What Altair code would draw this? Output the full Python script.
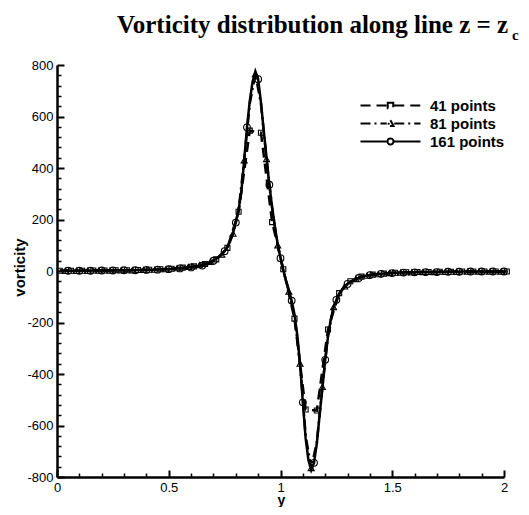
import altair as alt
import numpy as np
import pandas as pd

# ---------------- data ----------------
SERIES = ["41 points", "81 points", "161 points"]
NPTS = [41, 81, 161]
X_FIRST = 0.0125          # first sample position
X_SPAN = 2.0

V41 = [1, 1, 1, 2, 2, 3, 3, 4, 5, 7,
       9, 13, 18, 27, 45, 90, 230, 545, 537, 190,
       7, -185, -538, -542, -227, -86, -40, -22, -14, -10,
       -7, -5, -4, -4, -3, -3, -2, -2, -2, -2,
       -2]

V81 = [1, 1, 1, 1, 1, 1, 2, 2, 2, 2,
       3, 3, 3, 3, 4, 4, 5, 5, 7, 7,
       9, 11, 13, 16, 19, 23, 28, 36, 48, 64,
       92, 145, 235, 430, 650, 765, 650, 435, 245, 100,
       3, -80, -175, -360, -640, -765, -665, -450, -250, -140,
       -88, -60, -42, -31, -23, -18, -14, -12, -10, -8,
       -7, -6, -5, -5, -4, -4, -4, -4, -3, -3,
       -3, -3, -2, -2, -2, -2, -2, -2, -2, -2,
       -2]

V161 = [1, 1, 1, 1, 1, 1, 1, 1, 1, 1,
        1, 1, 2, 2, 2, 2, 2, 2, 2, 2,
        3, 3, 3, 3, 3, 3, 3, 3, 4, 4,
        4, 4, 5, 5, 5, 5, 6, 6, 7, 7,
        8, 9, 10, 10, 11, 12, 13, 14, 16, 17,
        19, 21, 24, 27, 33, 40, 48, 56, 65, 77,
        94, 116, 147, 188, 238, 310, 430, 558, 660, 735,
        775, 745, 655, 545, 440, 335, 248, 170, 105, 50,
        3, -38, -75, -115, -168, -248, -360, -510, -650, -735,
        -773, -745, -670, -560, -455, -345, -255, -188, -142, -112,
        -90, -73, -60, -50, -42, -36, -31, -27, -23, -20,
        -18, -16, -14, -13, -12, -11, -10, -9, -8, -8,
        -7, -6, -6, -6, -5, -5, -5, -5, -4, -4,
        -4, -4, -4, -4, -4, -4, -3, -3, -3, -3,
        -3, -3, -3, -3, -2, -2, -2, -2, -2, -2,
        -2, -2, -2, -2, -2, -2, -2, -2, -2, -2,
        -2]

X_TICKS = [0, 0.5, 1, 1.5, 2]
X_MINOR = [0.1, 0.2, 0.3, 0.4, 0.6, 0.7, 0.8, 0.9, 1.1, 1.2, 1.3, 1.4, 1.6, 1.7, 1.8, 1.9]
Y_TICKS = [-800, -600, -400, -200, 0, 200, 400, 600, 800]
Y_MINOR = [v for v in range(-800, 801, 40) if v % 200 != 0]

TITLE_MAIN = "Vorticity distribution along line z = z"
TITLE_SUB = "c"
X_TITLE = "y"
Y_TITLE = "vorticity"

# ---------------- styles ----------------
SANS = "Liberation Sans"
SERIF = "Liberation Serif"
DASHES = [[10, 6], [10, 4, 2, 4], [1, 0]]
# legend symbols: a 60 px line sample with the marker in its middle (unit = 5 px)
LEGEND_PATHS = [
    "M-6,0L-0.75,0M-0.55,-0.55L0.55,-0.55L0.55,0.55L-0.55,0.55ZM0.75,0L6,0",
    "M-6,0L-0.75,0M0,-0.65L0.6,0.5L-0.6,0.5ZM0.75,0L6,0",
    "M-6,0L-0.75,0M-0.6,0A0.6,0.6 0 1,0 0.6,0A0.6,0.6 0 1,0 -0.6,0ZM0.75,0L6,0",
]


def frame(vals, n, name):
    step = X_SPAN / (n - 1)
    idx = np.arange(len(vals))
    return pd.DataFrame({"pos": X_FIRST + step * idx, "val": vals,
                         "series": name, "idx": idx})


df41 = frame(V41, NPTS[0], SERIES[0])
df81 = frame(V81, NPTS[1], SERIES[1])
df161 = frame(V161, NPTS[2], SERIES[2])

xs = alt.Scale(domain=[0, 2], nice=False, zero=False)
ys = alt.Scale(domain=[-800, 800], nice=False, zero=False)

ax_x_main = alt.Axis(orient="bottom", values=X_TICKS, ticks=False, domain=True,
                     domainColor="black", domainWidth=2.5, labelExpr="'' + datum.value",
                     labelFont=SANS, labelFontSize=13, labelColor="black", labelPadding=4,
                     labelFlush=False, labelOverlap=False, grid=False,
                     title=X_TITLE, titleFont=SANS, titleFontSize=14, titleFontWeight="bold",
                     titleColor="black", titleX=224, titleY=27, titleAlign="center",
                     titleBaseline="alphabetic")
ax_x_major = alt.Axis(orient="bottom", values=X_TICKS, ticks=True, tickSize=7, tickWidth=2,
                      tickColor="black", domain=False, labels=False, grid=False, offset=-7,
                      title=None)
ax_x_minor = alt.Axis(orient="bottom", values=X_MINOR, ticks=True, tickSize=4, tickWidth=1.5,
                      tickColor="black", domain=False, labels=False, grid=False, offset=-4,
                      title=None)

ax_y_main = alt.Axis(orient="left", values=Y_TICKS, ticks=False, domain=True,
                     domainColor="black", domainWidth=2.5, labelExpr="'' + datum.value",
                     labelFont=SANS, labelFontSize=13, labelColor="black", labelPadding=4,
                     labelFlush=False, labelOverlap=False, grid=False,
                     title=Y_TITLE, titleFont=SANS, titleFontSize=15, titleFontWeight="bold",
                     titleColor="black", titleX=-38, titleY=202, titleAngle=270,
                     titleAlign="center", titleBaseline="middle")
ax_y_major = alt.Axis(orient="left", values=Y_TICKS, ticks=True, tickSize=7, tickWidth=2,
                      tickColor="black", domain=False, labels=False, grid=False, offset=-7,
                      title=None)
ax_y_minor = alt.Axis(orient="left", values=Y_MINOR, ticks=True, tickSize=4, tickWidth=1.5,
                      tickColor="black", domain=False, labels=False, grid=False, offset=-4,
                      title=None)


def line(df, dash, axx, axy):
    return alt.Chart(df).mark_line(color="black", strokeWidth=2.5, strokeDash=dash).encode(
        x=alt.X("pos:Q", scale=xs, axis=axx),
        y=alt.Y("val:Q", scale=ys, axis=axy),
    )


def points(df, shape, size, expr):
    return alt.Chart(df).transform_filter(expr).mark_point(
        shape=shape, filled=False, size=size, color="black", strokeWidth=1.1, opacity=1
    ).encode(
        x=alt.X("pos:Q", scale=xs, axis=None),
        y=alt.Y("val:Q", scale=ys, axis=None),
    )


l41 = line(df41, DASHES[0], ax_x_main, ax_y_main)
l81 = line(df81, DASHES[1], ax_x_major, ax_y_major)
l161 = line(df161, DASHES[2], ax_x_minor, ax_y_minor)

p41 = points(df41, "square", 25, "true")
p81 = points(df81, "triangle-up", 36, "datum.idx % 2 == 1")
p161 = points(df161, "circle", 45, "datum.idx % 4 == 3")

leg = alt.Legend(title=None, orient="none", legendX=305, legendY=33,
                 labelFont=SANS, labelFontSize=15, labelFontWeight="bold", labelColor="black",
                 labelOffset=32, symbolOffset=21, symbolSize=100, symbolStrokeWidth=2,
                 symbolStrokeColor="black", rowPadding=2, padding=0)

legend_layer = alt.Chart(df41).transform_filter("false").mark_point(
    filled=False, color="black", size=100, strokeWidth=2, opacity=1
).encode(
    x=alt.X("pos:Q", scale=xs, axis=None),
    y=alt.Y("val:Q", scale=ys, axis=None),
    shape=alt.Shape("series:N", scale=alt.Scale(domain=SERIES, range=LEGEND_PATHS), legend=leg),
    strokeDash=alt.StrokeDash("series:N", scale=alt.Scale(domain=SERIES, range=DASHES), legend=leg),
)

title_layer = alt.Chart(pd.DataFrame({"t": [TITLE_MAIN]})).mark_text(
    align="left", baseline="alphabetic", font=SERIF, fontSize=25, fontWeight="bold", color="black"
).encode(x=alt.value(60), y=alt.value(-32), text="t:N")

sub_layer = alt.Chart(pd.DataFrame({"t": [TITLE_SUB]})).mark_text(
    align="left", baseline="alphabetic", font=SERIF, fontSize=15, fontWeight="bold", color="black"
).encode(x=alt.value(455), y=alt.value(-25), text="t:N")

chart = alt.layer(
    l41, l81, l161, p41, p81, p161, legend_layer, title_layer, sub_layer
).resolve_axis(
    x="independent", y="independent"
).properties(
    width=447, height=412,
    padding={"left": 49, "top": 57, "right": 17, "bottom": 30},
    autosize=alt.AutoSizeParams(type="none"),
    background="white",
).configure_view(strokeWidth=0)

chart.save("out.html", embed_options={"renderer": "svg", "actions": False})
